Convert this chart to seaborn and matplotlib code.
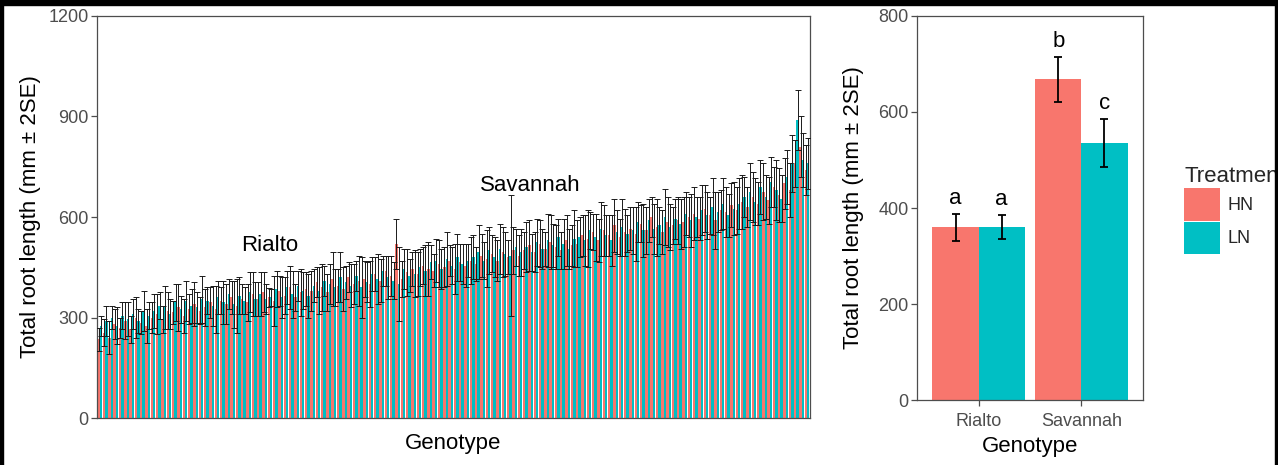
import numpy as np
import pandas as pd
import matplotlib
matplotlib.use('Agg')
import matplotlib.pyplot as plt
from matplotlib.patches import Patch, Rectangle
import seaborn as sns

# left panel: total root length per genotype (mm), HN / LN, +/- 2SE
hn = [235, 255, 240, 280, 270, 290, 265, 300, 285, 275,
      300, 310, 295, 320, 315, 330, 305, 325, 340, 320,
      330, 345, 325, 350, 340, 360, 335, 355, 345, 370,
      355, 375, 360, 350, 380, 365, 390, 360, 375, 385,
      380, 405, 390, 375, 415, 395, 385, 420, 400, 410,
      415, 400, 430, 410, 440, 425, 520, 415, 435, 445,
      430, 455, 445, 440, 460, 450, 470, 445, 465, 455,
      470, 460, 485, 475, 490, 470, 495, 480, 500, 485,
      500, 515, 495, 520, 505, 525, 510, 500, 530, 515,
      520, 545, 535, 555, 530, 560, 545, 575, 540, 555,
      565, 550, 580, 560, 600, 570, 555, 585, 575, 590,
      585, 600, 610, 595, 625, 605, 590, 620, 615, 635,
      620, 645, 630, 660, 640, 675, 650, 690, 665, 700,
      680, 760, 810, 740]
ln = [275, 290, 300, 275, 305, 295, 310, 290, 320, 305,
      320, 335, 330, 310, 345, 325, 350, 335, 330, 355,
      350, 335, 360, 345, 370, 340, 365, 350, 375, 355,
      370, 355, 360, 385, 360, 390, 370, 395, 380, 365,
      395, 380, 410, 400, 390, 420, 405, 395, 425, 390,
      405, 430, 415, 440, 420, 410, 400, 445, 425, 430,
      450, 440, 465, 470, 445, 475, 455, 480, 460, 470,
      480, 495, 470, 500, 480, 505, 490, 485, 510, 495,
      510, 495, 525, 505, 530, 515, 540, 520, 505, 535,
      540, 530, 560, 540, 565, 545, 530, 555, 570, 550,
      560, 585, 560, 590, 565, 575, 600, 570, 595, 580,
      610, 590, 600, 620, 605, 630, 615, 640, 605, 625,
      640, 660, 675, 645, 690, 660, 705, 680, 655, 720,
      760, 890, 770, 760]
hn_err = [35, 40, 50, 45, 30, 55, 40, 60, 35, 50,
          45, 60, 40, 55, 35, 70, 50, 45, 65, 40,
          55, 45, 70, 40, 60, 50, 80, 45, 55, 65,
          50, 60, 28, 75, 45, 55, 65, 40, 70, 50,
          60, 45, 70, 55, 80, 50, 65, 45, 60, 75,
          55, 70, 50, 65, 45, 60, 75, 55, 70, 50,
          65, 55, 80, 50, 70, 60, 45, 75, 55, 65,
          70, 50, 65, 85, 55, 60, 75, 50, 70, 60,
          55, 75, 60, 70, 50, 80, 65, 55, 75, 60,
          70, 60, 85, 55, 65, 75, 60, 80, 55, 70,
          65, 80, 55, 70, 60, 85, 65, 75, 55, 70,
          75, 60, 80, 65, 70, 55, 85, 60, 75, 65,
          70, 80, 60, 75, 65, 85, 70, 60, 80, 75,
          80, 70, 90, 75]
ln_err = [30, 45, 35, 55, 40, 50, 45, 35, 60, 40,
          50, 40, 65, 45, 55, 40, 60, 50, 45, 70,
          40, 60, 50, 65, 45, 70, 55, 40, 60, 50,
          65, 45, 25, 55, 60, 50, 70, 45, 55, 65,
          50, 70, 45, 60, 55, 75, 50, 65, 45, 90,
          60, 50, 75, 45, 65, 55, 110, 60, 50, 70,
          55, 75, 50, 65, 60, 80, 55, 70, 60, 50,
          65, 80, 55, 70, 60, 75, 65, 180, 55, 70,
          75, 55, 70, 60, 80, 65, 55, 75, 60, 85,
          60, 75, 55, 70, 80, 60, 75, 65, 85, 55,
          70, 60, 80, 65, 75, 55, 85, 70, 60, 75,
          65, 80, 60, 75, 70, 85, 60, 75, 65, 80,
          75, 60, 85, 70, 80, 65, 75, 90, 70, 80,
          85, 90, 80, 75]

genotypes = ['G%03d' % (i + 1) for i in range(len(hn))]
genotypes[32] = 'Rialto'
genotypes[81] = 'Savannah'
label_names = ['Rialto', 'Savannah']
label_y = [515, 695]

# right panel: the two parents
parents = ['Rialto', 'Savannah']
par_hn = [360, 668]
par_ln = [360, 535]
par_hn_err = [28, 47]
par_ln_err = [25, 50]
letters_hn = ['a', 'b']
letters_ln = ['a', 'c']

treatments = ['HN', 'LN']
colors = {'HN': '#F8766D', 'LN': '#00BFC4'}

df = pd.DataFrame({
    'Genotype': genotypes * 2,
    'Treatment': ['HN'] * len(hn) + ['LN'] * len(ln),
    'Length': hn + ln,
    'Err': hn_err + ln_err,
})
df_par = pd.DataFrame({
    'Genotype': parents * 2,
    'Treatment': ['HN'] * 2 + ['LN'] * 2,
    'Length': par_hn + par_ln,
    'Err': par_hn_err + par_ln_err,
})

sns.set_theme(style='white')
plt.rcParams['font.family'] = ['Liberation Sans', 'DejaVu Sans']

fig = plt.figure(figsize=(12.78, 4.65), dpi=100, facecolor='white')
# thin black frame of the screenshot (top, left, right)
for r in [(0, 1 - 5 / 465, 1, 5 / 465), (0, 0, 3 / 1278, 1), (1 - 3 / 1278, 0, 3 / 1278, 1)]:
    fig.patches.append(Rectangle(r[:2], r[2], r[3], transform=fig.transFigure,
                                 color='black', zorder=10))

ax1 = fig.add_axes([97 / 1278, 1 - 418 / 465, 713 / 1278, 402 / 465])
ax2 = fig.add_axes([917 / 1278, 1 - 400 / 465, 226 / 1278, 384 / 465])

gray = '#4D4D4D'


def draw(ax, data, lw, cap, ecol):
    sns.barplot(data=data, x='Genotype', y='Length', hue='Treatment',
                hue_order=treatments, palette=colors, errorbar=None,
                width=0.9, saturation=1, ax=ax, legend=False, linewidth=0)
    for cont, t in zip(ax.containers, treatments):
        sub = data[data['Treatment'] == t]
        xs = [p.get_x() + p.get_width() / 2 for p in cont.patches]
        ax.errorbar(xs, sub['Length'].values, yerr=sub['Err'].values, fmt='none',
                    ecolor=ecol, elinewidth=lw, capsize=cap, capthick=lw, zorder=3)
    for s in ax.spines.values():
        s.set_visible(True)
        s.set_color(gray)
        s.set_linewidth(0.9)
    ax.tick_params(axis='both', direction='out', length=4, width=0.9, color=gray,
                   labelcolor=gray, labelsize=13, left=True, bottom=True, pad=2)
    ax.set_facecolor('white')


draw(ax1, df, 0.7, 2.0, '#1a1a1a')
ax1.set_xlim(-0.55, len(hn) - 0.45)
ax1.set_ylim(0, 1200)
ax1.set_yticks([0, 300, 600, 900, 1200])
ax1.set_xticks([])
ax1.set_xlabel('Genotype', fontsize=16, color='black', labelpad=11)
ax1.set_ylabel('Total root length (mm ± 2SE)', fontsize=16, color='black', labelpad=5)
for name, yy in zip(label_names, label_y):
    ax1.text(genotypes.index(name), yy, name, ha='center', va='center',
             fontsize=16, color='black')

draw(ax2, df_par, 1.3, 3.2, 'black')
ax2.tick_params(axis='x', pad=5)
ax2.set_xlim(-0.6, 1.6)
ax2.set_ylim(0, 800)
ax2.set_yticks([0, 200, 400, 600, 800])
ax2.set_xlabel('Genotype', fontsize=16, color='black', labelpad=5)
ax2.set_ylabel('Total root length (mm ± 2SE)', fontsize=16, color='black', labelpad=10)
for cont, lets, vals, errs in zip(ax2.containers, [letters_hn, letters_ln],
                                  [par_hn, par_ln], [par_hn_err, par_ln_err]):
    for p, l, v, e in zip(cont.patches, lets, vals, errs):
        ax2.text(p.get_x() + p.get_width() / 2, v + e + 10, l, ha='center', va='bottom',
                 fontsize=16, color='black')

# the legend title is cut at the right edge in the reference
handles = [Patch(facecolor=colors[t], edgecolor='none', label=t) for t in treatments]
fig.legend(handles=handles, title='Treatmen', loc='upper left',
           bbox_to_anchor=(1177 / 1278, 1 - 159 / 465), frameon=False,
           fontsize=13, title_fontsize=16, handlelength=2.0, handleheight=2.4,
           labelspacing=0.05, handletextpad=0.4, alignment='left', borderaxespad=0)

fig.savefig('out.png', dpi=100)
